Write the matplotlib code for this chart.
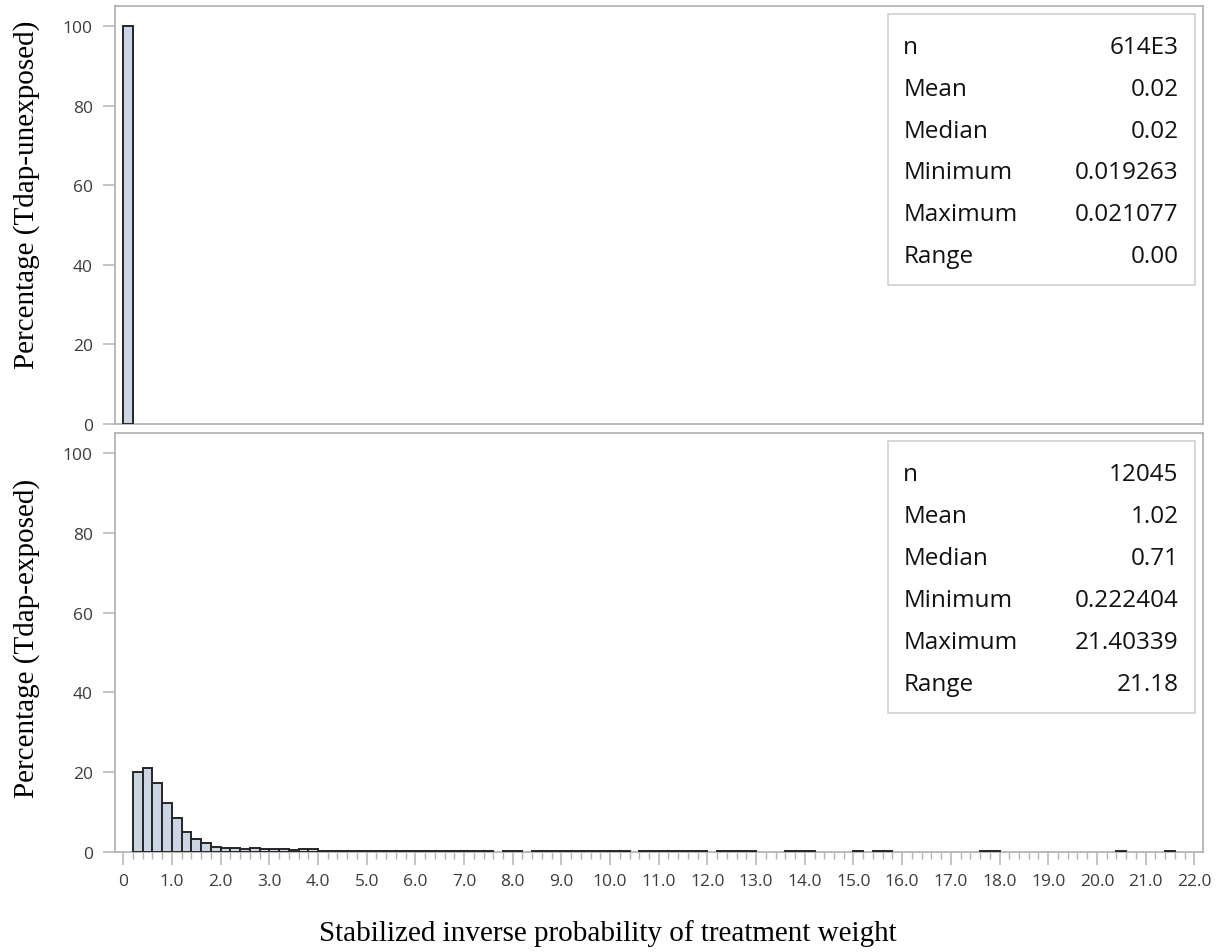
import numpy as np
import matplotlib
matplotlib.use("Agg")
import matplotlib.pyplot as plt
from matplotlib.patches import Rectangle
from matplotlib.ticker import MultipleLocator, FixedLocator

BIN_WIDTH = 0.2

# Tdap-unexposed: a single bin
unexposed_starts = [0.0]
unexposed_pct = [100.0]

# Tdap-exposed: percentage per 0.2-wide bin, bins starting at 0.2
exposed_first_edge = 0.2
exposed_pct = [
    20.0, 21.1, 17.3, 12.2, 8.6, 5.0, 3.2, 2.2, 1.2, 1.1,      # 0.2 - 2.0
    1.1, 0.7, 1.1, 0.8, 0.8, 0.8, 0.4, 0.8, 0.8,               # 2.2 - 3.8
    0.3, 0.3, 0.3, 0.3, 0.3, 0.3, 0.3, 0.3, 0.3, 0.3,          # 4.0 - 5.8
    0.3, 0.3, 0.3, 0.3, 0.3, 0.3, 0.3, 0.3,                    # 6.0 - 7.4
    0.0, 0.25, 0.25, 0.0,                                      # 7.6 - 8.2
    0.25, 0.25, 0.25, 0.25, 0.25, 0.25, 0.25, 0.25, 0.25, 0.25,  # 8.4 - 10.2
    0.0, 0.25, 0.25, 0.25, 0.25, 0.25, 0.25, 0.25, 0.0,        # 10.4 - 12.0
    0.25, 0.25, 0.25, 0.25, 0.0, 0.0, 0.0,                     # 12.2 - 13.4
    0.25, 0.25, 0.25, 0.0, 0.0, 0.0, 0.0,                      # 13.6 - 14.8
    0.25, 0.0, 0.25, 0.25,                                     # 15.0 - 15.6
    0.0, 0.0, 0.0, 0.0, 0.0, 0.0, 0.0, 0.0, 0.0,               # 15.8 - 17.4
    0.25, 0.25,                                                # 17.6 - 17.8
    0.0, 0.0, 0.0, 0.0, 0.0, 0.0, 0.0, 0.0, 0.0, 0.0, 0.0, 0.0,  # 18.0 - 20.2
    0.25, 0.0, 0.0, 0.0, 0.0, 0.25,                            # 20.4 - 21.4
]

stat_names = ["n", "Mean", "Median", "Minimum", "Maximum", "Range"]
unexposed_stats = ["614E3", "0.02", "0.02", "0.019263", "0.021077", "0.00"]
exposed_stats = ["12045", "1.02", "0.71", "0.222404", "21.40339", "21.18"]

ylabels = ["Percentage (Tdap-unexposed)", "Percentage (Tdap-exposed)"]
xlabel = "Stabilized inverse probability of treatment weight"

FILL = "#cbd5e4"
EDGE = "#262626"
FRAME = "#b4b4b4"
TICKTXT = "#3c3c3c"

W, H = 1217, 953
fig = plt.figure(figsize=(W / 100, H / 100), dpi=100)


def px_axes(x0, y0, x1, y1):
    return fig.add_axes([x0 / W, 1 - y1 / H, (x1 - x0) / W, (y1 - y0) / H])


ax_top = px_axes(115, 7, 1203, 425)
ax_bot = px_axes(115, 434, 1203, 853)

exp_starts = exposed_first_edge + BIN_WIDTH * np.arange(len(exposed_pct))
exp_pct = np.array(exposed_pct)
keep = exp_pct > 0

panels = [
    (ax_top, np.array(unexposed_starts), np.array(unexposed_pct), unexposed_stats),
    (ax_bot, exp_starts[keep], exp_pct[keep], exposed_stats),
]

for ax, starts, pct, stats in panels:
    ax.bar(starts, pct, width=BIN_WIDTH, align="edge", color=FILL,
           edgecolor=EDGE, linewidth=1.4, zorder=3)
    ax.set_xlim(-0.17, 22.18)
    ax.set_ylim(0, 105)
    for s in ax.spines.values():
        s.set_color(FRAME)
        s.set_linewidth(1.3)
    ax.yaxis.set_major_locator(FixedLocator([0, 20, 40, 60, 80, 100]))
    ax.tick_params(axis="y", length=9, width=1.1, color=FRAME,
                   labelcolor=TICKTXT, labelsize=12.5, pad=7)
    for lab in ax.get_yticklabels():
        lab.set_family("Open Sans")

    # summary statistics inset
    ax.add_patch(Rectangle((0.7105, 0.332), 0.282, 0.648, transform=ax.transAxes,
                           facecolor="white", edgecolor="#d0d0d0", linewidth=1.2,
                           zorder=4))
    for i, (name, val) in enumerate(zip(stat_names, stats)):
        yy = 0.902 - 0.1 * i
        ax.text(0.7245, yy, name, transform=ax.transAxes, ha="left", va="center",
                fontsize=17.5, family="Open Sans", color="#111111", zorder=5)
        ax.text(0.9775, yy, val, transform=ax.transAxes, ha="right", va="center",
                fontsize=17.5, family="Open Sans", color="#111111", zorder=5)

ax_top.tick_params(axis="x", bottom=False, labelbottom=False)

xt = np.arange(0, 23, 1.0)
ax_bot.xaxis.set_major_locator(FixedLocator(xt))
ax_bot.set_xticklabels(["0"] + [f"{v:.1f}" for v in xt[1:]])
ax_bot.xaxis.set_minor_locator(MultipleLocator(0.2))
ax_bot.tick_params(axis="x", which="major", length=9, width=1.1, color=FRAME,
                   labelcolor=TICKTXT, labelsize=12.5, pad=6)
ax_bot.tick_params(axis="x", which="minor", length=5, width=1.0, color=FRAME)
for lab in ax_bot.get_xticklabels():
    lab.set_family("Open Sans")

fig.text(27 / W, 1 - 195 / H, ylabels[0], rotation=90, ha="center", va="center",
         family="Liberation Serif", fontsize=21, color="black")
fig.text(27 / W, 1 - 638 / H, ylabels[1], rotation=90, ha="center", va="center",
         family="Liberation Serif", fontsize=21, color="black")
fig.text(608 / W, 1 - 934 / H, xlabel, ha="center", va="center",
         family="Liberation Serif", fontsize=21, color="black")

fig.savefig("out.png", dpi=100)
